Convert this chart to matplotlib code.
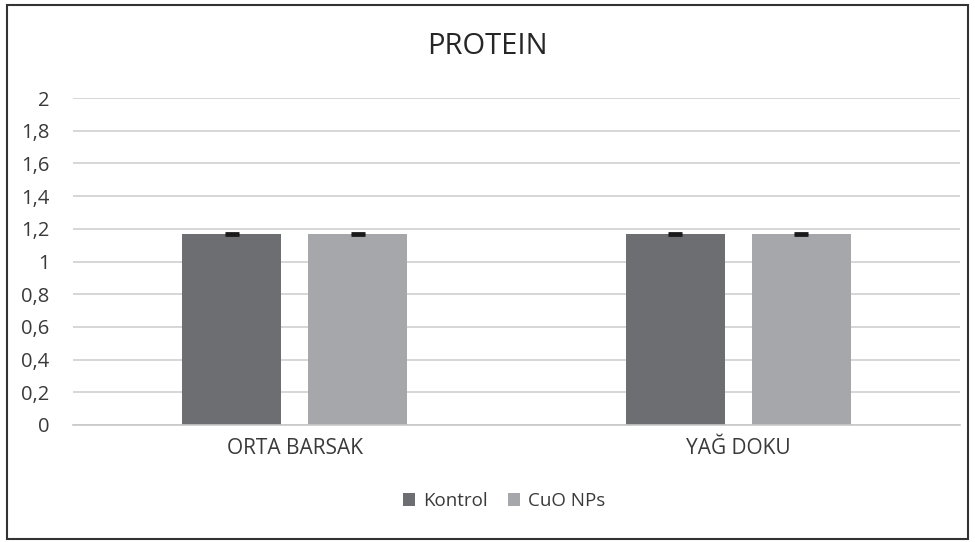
import matplotlib
matplotlib.use("Agg")
import matplotlib.pyplot as plt
from matplotlib.patches import Rectangle
import numpy as np

plt.rcParams['font.family'] = ['Open Sans', 'DejaVu Sans']

categories = ["ORTA BARSAK", "YAĞ DOKU"]
series_names = ["Kontrol", "CuO NPs"]
kontrol = [1.17, 1.17]
cuo = [1.17, 1.17]
kontrol_err = [0.005, 0.005]
cuo_err = [0.005, 0.005]
yticks = [0, 0.2, 0.4, 0.6, 0.8, 1, 1.2, 1.4, 1.6, 1.8, 2]
ytick_labels = ["0", "0,2", "0,4", "0,6", "0,8", "1", "1,2", "1,4", "1,6", "1,8", "2"]

colors = ["#6d6e71", "#a6a7aa"]

fig = plt.figure(figsize=(9.75, 5.42), dpi=100)
ax = fig.add_axes([73/975, 1-425/542, (960-73)/975, (425-98)/542])

x = np.arange(len(categories))
w = 0.223
off = w/2 + 0.0305
for vals, errs, c, name, o in [(kontrol, kontrol_err, colors[0], series_names[0], -off),
                               (cuo, cuo_err, colors[1], series_names[1], off)]:
    ax.bar(x + o, vals, w, color=c, label=name, zorder=2)
    ax.errorbar(x + o, vals, yerr=errs, fmt='none', ecolor='#1a1a1a', elinewidth=1.5,
                capsize=5, capthick=2, zorder=3)

ax.set_xlim(-0.5, 1.5)
ax.set_ylim(0, 2)
ax.set_yticks(yticks)
ax.set_yticklabels(ytick_labels, fontsize=14.5, color='#3a3a3a')
ax.set_xticks(x)
ax.set_xticklabels(categories, fontsize=15, color='#3a3a3a')
ax.tick_params(axis='both', length=0)
ax.tick_params(axis='y', pad=17)
ax.tick_params(axis='x', pad=9)
ax.yaxis.grid(True, color='#d0d0d0', linewidth=1.2, zorder=0)
ax.set_axisbelow(True)
for s in ['top', 'right', 'left']:
    ax.spines[s].set_visible(False)
ax.spines['bottom'].set_color('#c8c8c8')
ax.spines['bottom'].set_linewidth(1.2)

fig.text(0.5, 1-47/542, "PROTEIN", ha='center', va='center', fontsize=21, color='#262626')

handles, labels = ax.get_legend_handles_labels()
fig.legend(handles, labels, loc='center', bbox_to_anchor=(504/975, 1-501/542), ncol=2,
           frameon=False, fontsize=13.5, handlelength=0.65, handleheight=0.65,
           handletextpad=0.4, columnspacing=1.1, labelcolor='#3a3a3a')

fig.add_artist(Rectangle((7/975, 1-539/542), (968-7)/975, (539-5)/542, transform=fig.transFigure,
                         fill=False, edgecolor='#333333', linewidth=1.5))

fig.savefig("out.png", dpi=100)
